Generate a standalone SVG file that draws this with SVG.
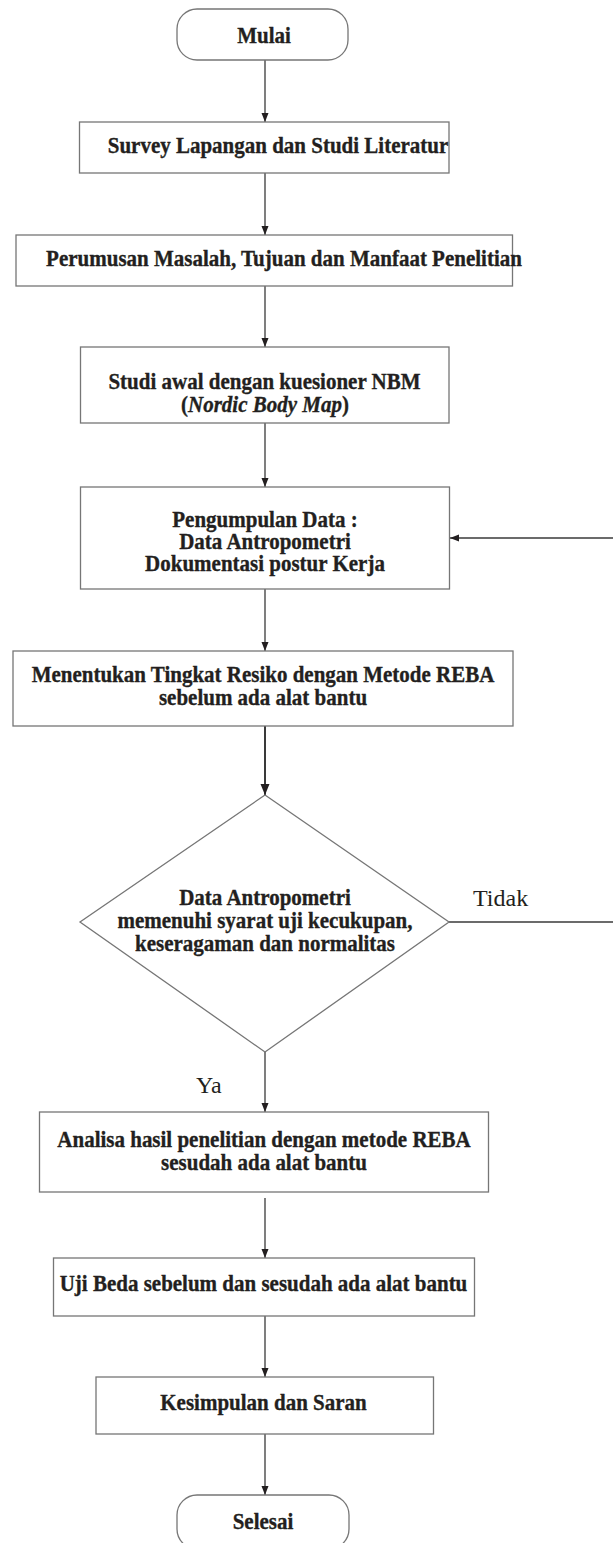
<svg xmlns="http://www.w3.org/2000/svg" width="613" height="1543" viewBox="0 0 613 1543">
<defs>
<style>
.box{fill:#fff;stroke:#767676;stroke-width:1.3}
.t{font-family:"Liberation Serif","Times New Roman",serif;font-weight:bold;font-size:23.5px;fill:#231f20;stroke:#231f20;stroke-width:0.35;text-anchor:middle}
.it{font-style:italic}
.lbl{font-family:"Liberation Serif","Times New Roman",serif;font-size:24px;fill:#231f20}
.c{stroke:#3a3a3a;stroke-width:1.3;fill:none}
.c2{stroke:#3a3a3a;stroke-width:2;fill:none}
</style>
<marker id="ah" markerWidth="10" markerHeight="10" refX="9" refY="5" orient="auto" markerUnits="userSpaceOnUse">
<path d="M0,1.5 L9,5 L0,8.5 Z" fill="#231f20"/>
</marker>
<marker id="ah2" markerWidth="12" markerHeight="12" refX="11" refY="6" orient="auto" markerUnits="userSpaceOnUse">
<path d="M0,1.5 L11,6 L0,10.5 Z" fill="#231f20"/>
</marker>
</defs>
<rect width="613" height="1543" fill="#fff"/>
<g id="connectors">
<line class="c" x1="265" y1="60" x2="265" y2="122" marker-end="url(#ah)"/>
<line class="c" x1="265" y1="173" x2="265" y2="235" marker-end="url(#ah)"/>
<line class="c" x1="265" y1="286" x2="265" y2="347" marker-end="url(#ah)"/>
<line class="c" x1="265" y1="423" x2="265" y2="487" marker-end="url(#ah)"/>
<line class="c" x1="265" y1="589" x2="265" y2="651" marker-end="url(#ah)"/>
<line class="c2" x1="265" y1="726" x2="265" y2="795" marker-end="url(#ah2)"/>
<line class="c" x1="265" y1="1052" x2="265" y2="1112" marker-end="url(#ah)"/>
<line class="c" x1="265" y1="1198" x2="265" y2="1258" marker-end="url(#ah)"/>
<line class="c" x1="265" y1="1316" x2="265" y2="1377" marker-end="url(#ah)"/>
<line class="c" x1="265" y1="1434" x2="265" y2="1495" marker-end="url(#ah)"/>
<line class="c" x1="449" y1="922" x2="613" y2="922"/>
<line class="c" x1="613" y1="538" x2="450" y2="538" marker-end="url(#ah)"/>
<text class="lbl" x="473" y="906">Tidak</text>
<text class="lbl" x="196" y="1093">Ya</text>
</g>
<g id="mulai">
<rect class="box" x="177" y="9" width="171" height="51" rx="20"/>
<text class="t" transform="matrix(0.894 0 0 1 264 0)" x="0" y="43">Mulai</text>
</g>
<g id="survey">
<rect class="box" x="79.5" y="122" width="369.5" height="51"/>
<text class="t" transform="matrix(0.894 0 0 1 278 0)" x="0" y="153">Survey Lapangan dan Studi Literatur</text>
</g>
<g id="perumusan">
<rect class="box" x="16" y="235" width="496.5" height="51"/>
<text class="t" transform="matrix(0.894 0 0 1 284 0)" x="0" y="266">Perumusan Masalah, Tujuan dan Manfaat Penelitian</text>
</g>
<g id="studi-awal">
<rect class="box" x="80.5" y="347" width="368.5" height="76"/>
<text class="t" transform="matrix(0.894 0 0 1 264.5 0)" x="0" y="389">Studi awal dengan kuesioner NBM</text>
<text class="t" transform="matrix(0.894 0 0 1 265 0)" x="0" y="412">(<tspan class="it">Nordic Body Map</tspan>)</text>
</g>
<g id="pengumpulan">
<rect class="box" x="80.5" y="487" width="369" height="102"/>
<text class="t" transform="matrix(0.894 0 0 1 265 0)" x="0" y="527">Pengumpulan Data :</text>
<text class="t" transform="matrix(0.894 0 0 1 265 0)" x="0" y="549">Data Antropometri</text>
<text class="t" transform="matrix(0.894 0 0 1 265 0)" x="0" y="571">Dokumentasi postur Kerja</text>
</g>
<g id="menentukan">
<rect class="box" x="13" y="651" width="500" height="75"/>
<text class="t" transform="matrix(0.894 0 0 1 263 0)" x="0" y="682">Menentukan Tingkat Resiko dengan Metode REBA</text>
<text class="t" transform="matrix(0.894 0 0 1 263 0)" x="0" y="705">sebelum ada alat bantu</text>
</g>
<g id="keputusan">
<polygon class="box" points="265,795 449,922 265,1052 80,922"/>
<text class="t" transform="matrix(0.894 0 0 1 265 0)" x="0" y="905">Data Antropometri</text>
<text class="t" transform="matrix(0.894 0 0 1 265 0)" x="0" y="928">memenuhi syarat uji kecukupan,</text>
<text class="t" transform="matrix(0.894 0 0 1 265 0)" x="0" y="951">keseragaman dan normalitas</text>
</g>
<g id="analisa">
<rect class="box" x="39.5" y="1112" width="449" height="80"/>
<text class="t" transform="matrix(0.894 0 0 1 264 0)" x="0" y="1147">Analisa hasil penelitian dengan metode REBA</text>
<text class="t" transform="matrix(0.894 0 0 1 264 0)" x="0" y="1170.5">sesudah ada alat bantu</text>
</g>
<g id="uji-beda">
<rect class="box" x="53.5" y="1258" width="421" height="58"/>
<text class="t" transform="matrix(0.894 0 0 1 263.5 0)" x="0" y="1291.5">Uji Beda sebelum dan sesudah ada alat bantu</text>
</g>
<g id="kesimpulan">
<rect class="box" x="96" y="1377" width="337.5" height="57"/>
<text class="t" transform="matrix(0.894 0 0 1 263.5 0)" x="0" y="1410.5">Kesimpulan dan Saran</text>
</g>
<g id="selesai">
<rect class="box" x="177" y="1495" width="172" height="54" rx="20"/>
<text class="t" transform="matrix(0.894 0 0 1 263 0)" x="0" y="1529">Selesai</text>
</g>
</svg>
